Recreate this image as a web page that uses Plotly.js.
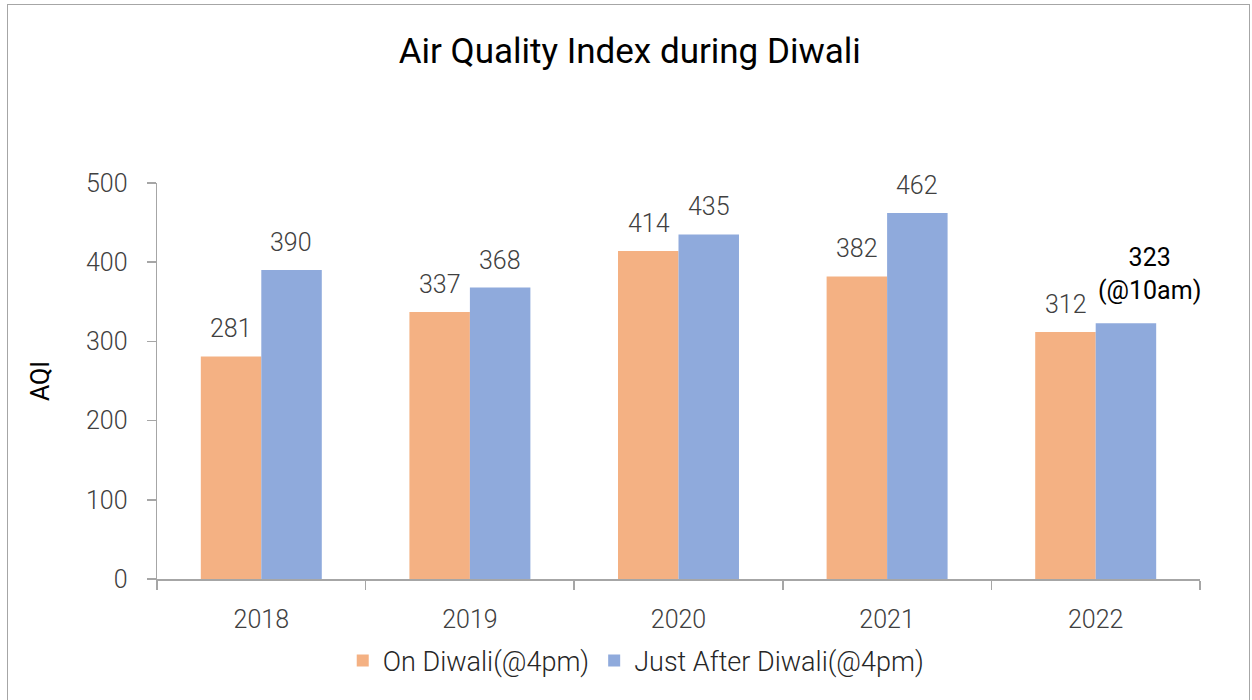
<!DOCTYPE html>
<html>
<head>
<meta charset="utf-8">
<script src="https://cdn.plot.ly/plotly-3.0.1.min.js"></script>
<style>
html,body{margin:0;padding:0;background:#fff;}
#frame{position:absolute;left:7px;top:4px;width:1243px;height:696px;border:1.5px solid #a6a6a6;border-bottom:none;box-sizing:border-box;}
#chart{position:absolute;left:0;top:0;width:1252px;height:700px;}
</style>
</head>
<body>
<div id="frame"></div>
<div id="chart"></div>
<script>
var years = ['2018', '2019', '2020', '2021', '2022'];
var onDiwali = [281, 337, 414, 382, 312];
var afterDiwali = [390, 368, 435, 462, 323];
var afterNotes = ['', '', '', '', '(@10am)'];
var seriesNames = ['On Diwali(@4pm)', 'Just After Diwali(@4pm)'];
var yTicks = [0, 100, 200, 300, 400, 500];

var FONT = 'Roboto, "Open Sans", sans-serif';
var LABEL_FONT = {size: 25, color: '#404040', family: FONT, weight: 300};

var traces = [
  {
    type: 'bar', name: seriesNames[0], x: years, y: onDiwali,
    marker: {color: '#f4b183'}, hoverinfo: 'x+y'
  },
  {
    type: 'bar', name: seriesNames[1], x: years, y: afterDiwali,
    marker: {color: '#8faadc'}, hoverinfo: 'x+y'
  }
];

var annotations = [];
years.forEach(function (yr, i) {
  annotations.push({
    x: i, y: onDiwali[i], xref: 'x', yref: 'y', text: String(onDiwali[i]),
    showarrow: false, xanchor: 'center', yanchor: 'bottom', xshift: -30, yshift: 11,
    font: LABEL_FONT
  });
  var hasNote = afterNotes[i] !== '';
  annotations.push({
    x: i, y: afterDiwali[i], xref: 'x', yref: 'y',
    text: hasNote ? String(afterDiwali[i]) + '<br>' + afterNotes[i] : String(afterDiwali[i]),
    showarrow: false, xanchor: 'center', yanchor: 'bottom',
    xshift: hasNote ? 54 : 30, yshift: hasNote ? 16 : 11,
    font: hasNote ? {size: 25, color: '#000000', family: FONT, weight: 400} : LABEL_FONT
  });
});

var layout = {
  width: 1252, height: 700,
  margin: {l: 157, r: 52, t: 183, b: 121},
  paper_bgcolor: 'rgba(0,0,0,0)', plot_bgcolor: 'rgba(0,0,0,0)',
  font: {family: FONT, size: 25, color: '#404040', weight: 300},
  title: {text: 'Air Quality Index during Diwali', x: 0.503, xanchor: 'center', y: 0.927, yanchor: 'middle',
          font: {size: 35, color: '#000000', family: FONT, weight: 400}},
  barmode: 'group', bargap: 0.42, bargroupgap: 0,
  showlegend: true,
  legend: {orientation: 'h', x: 0.459, xanchor: 'center', y: -0.207, yanchor: 'middle',
           font: {size: 27, color: '#262626', family: FONT, weight: 300}, traceorder: 'normal'},
  annotations: annotations,
  xaxis: {
    type: 'category', range: [-0.5, years.length - 0.5],
    showline: true, linecolor: '#a6a6a6', linewidth: 1.5,
    ticks: 'outside', tickson: 'boundaries', ticklen: 9, tickcolor: '#a6a6a6', tickwidth: 1.5,
    showgrid: false, tickfont: {size: 25, color: '#404040'}, ticklabelstandoff: 17
  },
  yaxis: {
    range: [0, 500], tickvals: yTicks, ticktext: yTicks.map(String),
    showline: true, linecolor: '#a6a6a6', linewidth: 1.5,
    ticks: 'outside', ticklen: 9, tickcolor: '#a6a6a6', tickwidth: 1.5,
    showgrid: false, zeroline: false, tickfont: {size: 25, color: '#404040'}, ticklabelstandoff: 14,
    title: {text: 'AQI', standoff: 29, font: {size: 25, color: '#000000', weight: 400}}
  }
};

Plotly.newPlot('chart', traces, layout, {displayModeBar: false, staticPlot: true});
</script>
</body>
</html>
